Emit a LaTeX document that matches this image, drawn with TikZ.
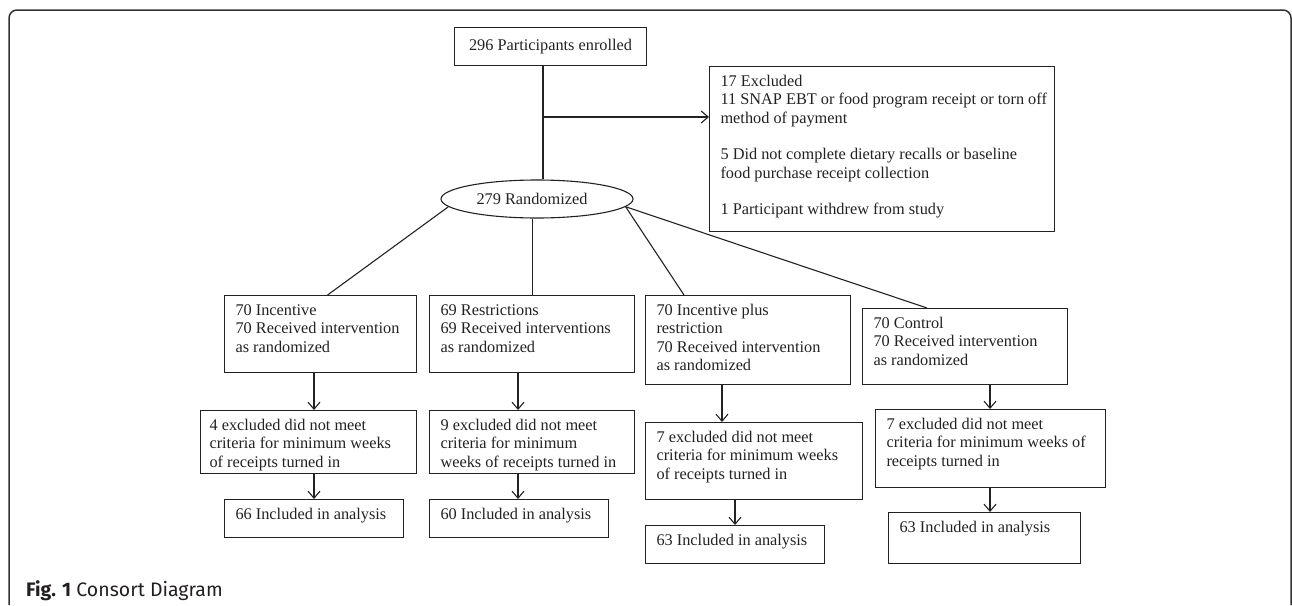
\documentclass[tikz,border=0pt]{standalone}
\usepackage{fontspec}
\setmainfont{Liberation Serif}
\newfontfamily\capfont{Fira Sans}
\usetikzlibrary{shapes.geometric,arrows.meta,calc}
\definecolor{ink}{HTML}{222222}
\definecolor{framec}{HTML}{333333}
\definecolor{capc}{HTML}{231F20}
\newcommand{\bxt}[4]{\begin{minipage}[t][#2pt][t]{#1pt}\raggedright\leftskip=#3pt\relax\rule{0pt}{20pt}#4\end{minipage}}
\begin{document}
\begin{tikzpicture}[x=1pt,y=-1pt,
  font=\fontsize{16.3}{18.3}\selectfont, color=ink,
  box/.style={draw=ink, line width=1.1pt, anchor=north west, inner sep=0pt},
  arr/.style={-{Straight Barb[length=7pt,width=12pt]}, line width=1.1pt, draw=ink},
  link/.style={line width=1.1pt, draw=ink}]
\useasboundingbox (0,0) rectangle (1292,605);
\draw[line width=1.5pt, draw=framec, rounded corners=8pt] (9,605) -- (9,10) -- (1291,10) -- (1291,605);

\node[box, minimum width=192pt, minimum height=38pt, align=center] (enr) at (454,27) {296 Participants enrolled};
\node[draw=ink, line width=1.1pt, ellipse, minimum width=192pt, minimum height=38pt, inner sep=0pt] (rand) at (537,199) {\hspace*{-10pt}279 Randomized};
\node[box] (exc) at (709,66) {\bxt{345}{165}{11}{17 Excluded\\11 SNAP EBT or food program receipt or torn off\\method of payment\\[18.3pt]5 Did not complete dietary recalls or baseline\\food purchase receipt collection\\[18.3pt]1 Participant withdrew from study}};

\node[box] (inc) at (224,295) {\bxt{192}{77}{11}{70 Incentive\\70 Received intervention\\as randomized}};
\node[box] (res) at (429,295) {\bxt{205}{77}{11}{69 Restrictions\\69 Received interventions\\as randomized}};
\node[box] (ip) at (645,295) {\bxt{205}{89}{11}{70 Incentive plus\\restriction\\70 Received intervention\\as randomized}};
\node[box] (ctl) at (862,308) {\bxt{205}{76}{11}{70 Control\\70 Received intervention\\as randomized}};

\node[box] (ex1) at (200,410) {\bxt{216}{63}{9}{4 excluded did not meet\\criteria for minimum weeks\\of receipts turned in}};
\node[box] (ex2) at (429,410) {\bxt{205}{63}{11}{9 excluded did not meet\\criteria for minimum\\weeks of receipts turned in}};
\node[box] (ex3) at (645,422) {\bxt{217}{77}{11}{7 excluded did not meet\\criteria for minimum weeks\\of receipts turned in}};
\node[box] (ex4) at (875,409) {\bxt{230}{78}{11}{7 excluded did not meet\\criteria for minimum weeks of\\receipts turned in}};

\node[box] (in1) at (224,499) {\bxt{179}{38}{11}{66 Included in analysis}};
\node[box] (in2) at (429,499) {\bxt{179}{38}{11}{60 Included in analysis}};
\node[box] (in3) at (645,525) {\bxt{179}{38}{11}{63 Included in analysis}};
\node[box] (in4) at (888,512) {\bxt{192}{51}{11}{63 Included in analysis}};

\coordinate (jn) at (543,117);
\coordinate (ax1) at (314,0);
\coordinate (ax2) at (518,0);
\coordinate (ax3) at (722,0);
\coordinate (ax3b) at (735,0);
\coordinate (ax4) at (990,0);

\draw[line width=1.8pt] (enr.south -| jn) -- (rand.north -| jn);
\draw[arr] (jn) -- (exc.west |- jn);

\draw[link] (rand.185) -- ($(inc.north)+(7,0)$);
\draw[link] (rand.south -| res.north) -- (res.north);
\draw[link] (rand.355) -- ($(ip.north west)+(39,0)$);
\draw[link] (rand.355) -- ($(ctl.north west)+(65,0)$);

\draw[arr] (inc.south -| ax1) -- (ex1.north -| ax1);
\draw[arr] (ex1.south -| ax1) -- (in1.north -| ax1);
\draw[arr] (res.south -| ax2) -- (ex2.north -| ax2);
\draw[arr] (ex2.south -| ax2) -- (in2.north -| ax2);
\draw[arr] (ip.south -| ax3) -- (ex3.north -| ax3);
\draw[arr] (ex3.south -| ax3b) -- (in3.north -| ax3b);
\draw[arr] (ctl.south -| ax4) -- (ex4.north -| ax4);
\draw[arr] (ex4.south -| ax4) -- (in4.north -| ax4);

\node[anchor=base west, font=\capfont\fontsize{19.5}{22}\selectfont, text=capc, inner sep=0pt] (cap) at (26,596) {\textbf{Fig. 1} Consort Diagram};
\end{tikzpicture}
\end{document}
